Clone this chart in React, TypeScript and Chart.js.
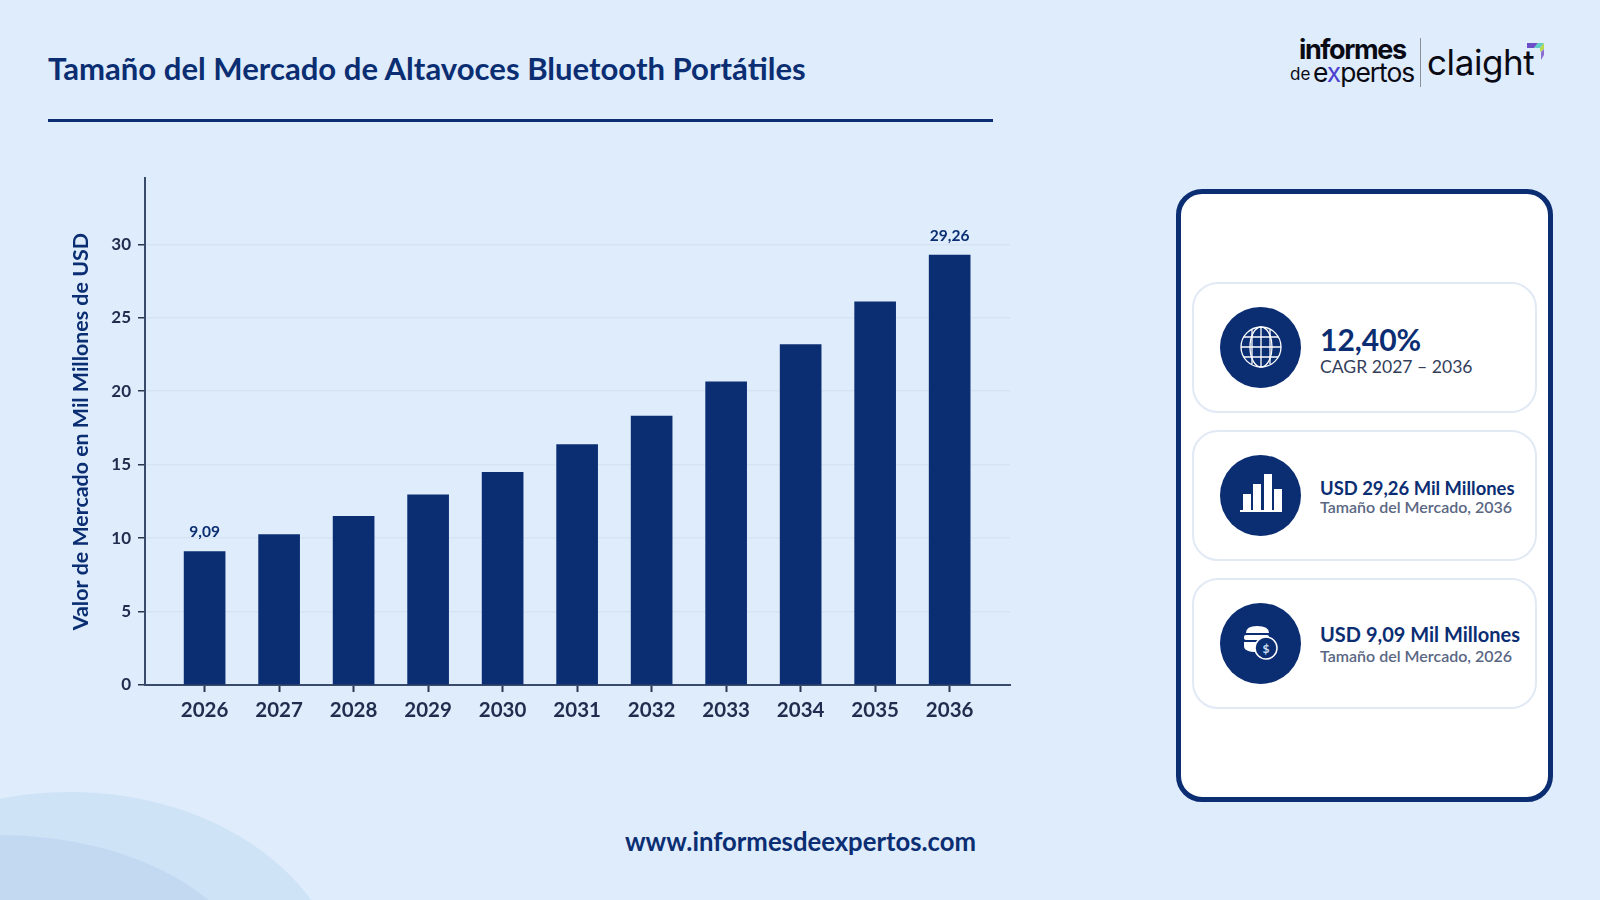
import { useEffect, useRef } from "react";
import { Chart, registerables, type Plugin } from "chart.js";

Chart.register(...registerables);

const NAVY = "#0B2E73";
const years = [2026, 2027, 2028, 2029, 2030, 2031, 2032, 2033, 2034, 2035, 2036];
const marketValues = [9.09, 10.24, 11.49, 12.95, 14.48, 16.36, 18.3, 20.63, 23.17, 26.09, 29.26];
const valueLabels = ["9,09", "", "", "", "", "", "", "", "", "", "29,26"];

// only first and last bar carry a label
const barLabels: Plugin<"bar"> = {
  id: "barLabels",
  afterDatasetsDraw(chart) {
    const { ctx } = chart;
    const bars = chart.getDatasetMeta(0).data;
    ctx.save();
    ctx.font = "700 15.5px Lato";
    ctx.fillStyle = NAVY;
    ctx.textAlign = "center";
    ctx.textBaseline = "alphabetic";
    bars.forEach((bar, i) => {
      if (valueLabels[i]) ctx.fillText(valueLabels[i], bar.x, bar.y - 14);
    });
    ctx.restore();
  },
};

const BarsChart = () => {
  const canvasRef = useRef<HTMLCanvasElement>(null);

  useEffect(() => {
    if (!canvasRef.current) return;
    const chart = new Chart(canvasRef.current, {
      type: "bar",
      data: {
        datasets: [
          {
            data: years.map((year, i) => ({ x: year, y: marketValues[i] })),
            backgroundColor: NAVY,
            barThickness: 41,
          },
        ],
      },
      plugins: [barLabels],
      options: {
        animation: false,
        responsive: false,
        layout: { padding: { top: 7, right: 10, left: 0, bottom: 0 } },
        plugins: { legend: { display: false }, tooltip: { enabled: false } },
        scales: {
          x: {
            type: "linear",
            offset: false,
            min: 2025.2,
            max: 2036.81,
            afterFit: (scale) => {
              scale.height = 65;
            },
            border: { color: "#3A4A6B", width: 2 },
            grid: { offset: false, drawOnChartArea: false, tickColor: "#2B3752", tickLength: 7, tickWidth: 2 },
            ticks: {
              stepSize: 1,
              includeBounds: false,
              autoSkip: false,
              maxRotation: 0,
              padding: 6,
              color: "#1F2C4D",
              font: { family: "Lato", size: 20.5, weight: 700 },
              callback: (value) => String(value),
            },
          },
          y: {
            min: 0,
            max: 34.5,
            afterFit: (scale) => {
              scale.width = 77;
            },
            border: { color: "#3A4A6B", width: 2 },
            grid: { color: "#D5E3F3", tickColor: "#2B3752", tickLength: 7, lineWidth: 1.5 },
            ticks: {
              stepSize: 5,
              includeBounds: false,
              padding: 7,
              color: "#1F2C4D",
              font: { family: "Lato", size: 17, weight: 700 },
            },
            title: {
              display: true,
              text: "Valor de Mercado en Mil Millones de USD",
              color: NAVY,
              font: { family: "Lato", size: 21.4, weight: 700 },
              padding: { top: 0, bottom: 8 },
            },
          },
        },
      },
    });
    return () => chart.destroy();
  }, []);

  return (
    <canvas
      ref={canvasRef}
      width={952}
      height={589}
      style={{ position: "absolute", left: 68, top: 161, width: 952, height: 589 }}
    />
  );
};

const GlobeIcon = () => (
  <svg width="42" height="42" viewBox="0 0 42 42" fill="none" stroke="#fff" strokeWidth="1.3">
    <circle cx="21" cy="21" r="20" />
    <ellipse cx="21" cy="21" rx="11" ry="20" />
    <line x1="21" y1="1" x2="21" y2="41" />
    <line x1="12" y1="4" x2="12" y2="38" />
    <line x1="30" y1="4" x2="30" y2="38" />
    <line x1="1" y1="21" x2="41" y2="21" />
    <line x1="4" y1="11" x2="38" y2="11" />
    <line x1="4" y1="31" x2="38" y2="31" />
  </svg>
);

const BarsIcon = () => (
  <svg width="42" height="40" viewBox="0 0 42 40" fill="#fff" style={{ marginTop: -2 }}>
    <rect x="3" y="20" width="8" height="17" />
    <rect x="13" y="10" width="8" height="27" />
    <rect x="24" y="0" width="8" height="37" />
    <rect x="34" y="15" width="8" height="22" />
    <rect x="0" y="36" width="42" height="2" />
  </svg>
);

const CoinsIcon = () => (
  <svg width="36" height="36" viewBox="0 0 36 36">
    <path d="M3 8 Q3 1 14 1 Q26 1 26 8 Z" fill="#fff" />
    <rect x="1" y="10" width="25" height="5" rx="2" fill="#fff" />
    <path d="M1 17 H18 Q13 21 14 27 Q1 27 1 21 Z" fill="#fff" />
    <circle cx="23" cy="23" r="11" fill={NAVY} stroke="#fff" strokeWidth="1.5" />
    <text x="23" y="27.5" textAnchor="middle" fontFamily="Lato" fontWeight="700" fontSize="12" fill="#CFE0F5">
      $
    </text>
  </svg>
);

const cardTops = [282, 430, 578];

const Card = ({ index, icon }: { index: number; icon: React.ReactNode }) => (
  <div
    style={{
      position: "absolute",
      left: 1192,
      top: cardTops[index],
      width: 345,
      height: 131,
      boxSizing: "border-box",
      border: "2px solid #E1E9F5",
      borderRadius: 26,
      background: "#fff",
    }}
  >
    <div
      style={{
        position: "absolute",
        left: 26,
        top: 22.5,
        width: 81,
        height: 81,
        borderRadius: "50%",
        background: NAVY,
        display: "flex",
        alignItems: "center",
        justifyContent: "center",
      }}
    >
      {icon}
    </div>
  </div>
);

const Line = ({ left, baseline, size, weight, color, children, family = "Lato" }: any) => (
  <div
    style={{
      position: "absolute",
      left,
      top: baseline - size,
      height: size,
      lineHeight: `${size}px`,
      fontFamily: family,
      fontSize: size,
      fontWeight: weight,
      color,
      whiteSpace: "nowrap",
    }}
  >
    {children}
  </div>
);

export default function App() {
  return (
    <div
      style={{
        position: "relative",
        width: 1600,
        height: 900,
        overflow: "hidden",
        background: "#DEECFB",
        fontFamily: "Lato",
      }}
    >
      <style>{`body{margin:0}`}</style>

      <svg width="1600" height="900" style={{ position: "absolute", left: 0, top: 0 }}>
        <ellipse cx="70" cy="1000" rx="275" ry="208" fill="#CFE3F7" />
        <ellipse cx="0" cy="1000" rx="262" ry="165" fill="#C3D9F1" />
      </svg>

      <Line left={48} baseline={84} size={31.1} weight={700} color={NAVY}>
        Tamaño del Mercado de Altavoces Bluetooth Portátiles
      </Line>
      <div style={{ position: "absolute", left: 48, top: 119, width: 945, height: 3, background: NAVY }} />

      <BarsChart />

      <Line left={625} baseline={855} size={25.7} weight={700} color={NAVY}>
        www.informesdeexpertos.com
      </Line>

      {/* logos */}
      <Line left={1299} baseline={63} size={27} weight={700} color="#0A0A14" family="Inter">
        <span style={{ letterSpacing: -1.4 }}>informes</span>
      </Line>
      <Line left={1290} baseline={83} size={17} weight={400} color="#0A0A14" family="Inter">
        de
      </Line>
      <Line left={1313} baseline={85} size={26.4} weight={400} color="#0A0A14" family="Inter">
        <span style={{ letterSpacing: -1 }}>
          e<span style={{ color: "#4B3FD0" }}>x</span>pertos
        </span>
      </Line>
      <div style={{ position: "absolute", left: 1420, top: 38, width: 1, height: 49, background: "#8A8F99" }} />
      <Line left={1427} baseline={80} size={35} weight={400} color="#0A0A14" family="Inter">
        <span style={{ letterSpacing: -0.4 }}>claight</span>
      </Line>
      <svg width="20" height="20" style={{ position: "absolute", left: 1526, top: 42 }}>
        <path d="M1 1 H12 L8 6 H1 Z" fill="#6B4FC8" />
        <path d="M12 1 H18 L14 6 H8 Z" fill="#5FD0C8" />
        <path d="M18 1 V7 L14 10 V6 Z" fill="#B9D84A" />
        <path d="M18 7 V13 L15 18 V10 Z" fill="#8C6FD0" />
      </svg>

      {/* right panel */}
      <div
        style={{
          position: "absolute",
          left: 1176,
          top: 189,
          width: 377,
          height: 613,
          boxSizing: "border-box",
          border: `5px solid ${NAVY}`,
          borderRadius: 26,
          background: "#fff",
        }}
      />

      <Card index={0} icon={<GlobeIcon />} />
      <Line left={1320} baseline={354} size={30} weight={700} color={NAVY}>
        12,40%
      </Line>
      <Line left={1320} baseline={376} size={17.6} weight={400} color="#333E5A">
        CAGR 2027 – 2036
      </Line>

      <Card index={1} icon={<BarsIcon />} />
      <Line left={1320} baseline={497} size={18.4} weight={700} color={NAVY}>
        USD 29,26 Mil Millones
      </Line>
      <Line left={1320} baseline={515} size={16} weight={600} color="#5A6783">
        Tamaño del Mercado, 2036
      </Line>

      <Card index={2} icon={<CoinsIcon />} />
      <Line left={1320} baseline={644} size={20} weight={700} color={NAVY}>
        USD 9,09 Mil Millones
      </Line>
      <Line left={1320} baseline={664} size={16} weight={600} color="#5A6783">
        Tamaño del Mercado, 2026
      </Line>
    </div>
  );
}
